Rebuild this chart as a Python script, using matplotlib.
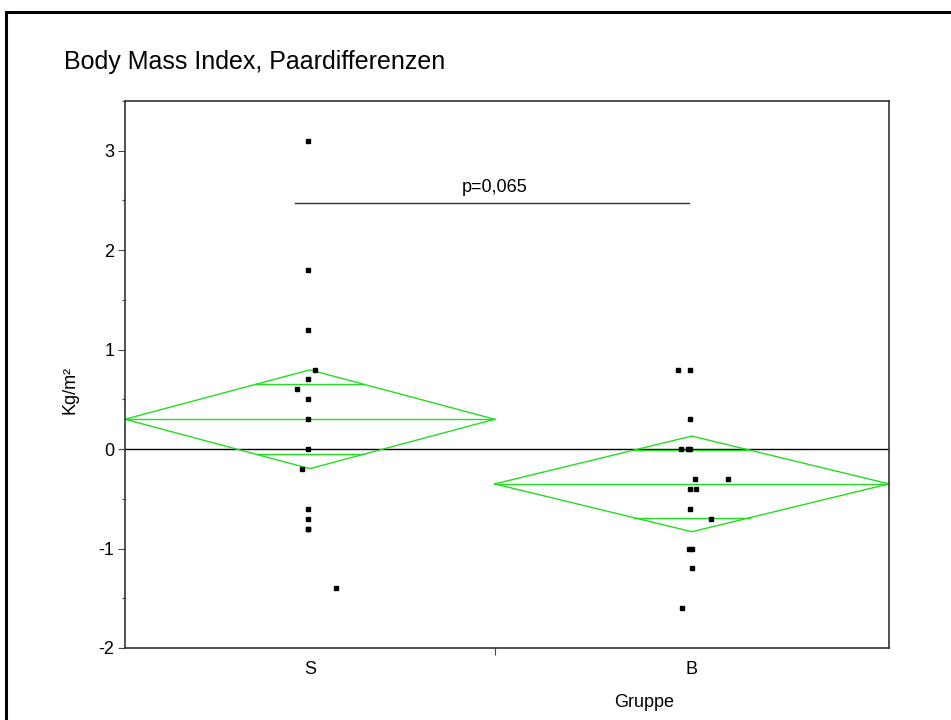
import numpy as np
import matplotlib
matplotlib.use("Agg")
import matplotlib.pyplot as plt
from matplotlib.patches import Rectangle
from matplotlib.ticker import FixedLocator, MultipleLocator

plt.rcParams['font.family'] = ['Liberation Sans', 'DejaVu Sans']
plt.rcParams['axes.unicode_minus'] = False

# BMI pair differences per group (kg/m²)
groups = ["S", "B"]
s_values = [3.1, 1.8, 1.2, 0.8, 0.7, 0.6, 0.5, 0.3, 0.0, -0.2, -0.6, -0.7, -0.8, -0.8, -1.4]
s_jitter = [0, 0, 0, 0.3, 0, -0.45, 0, 0, 0, -0.25, 0, 0, 0, 0, 1.15]
b_values = [0.8, 0.8, 0.3, 0.0, 0.0, 0.0, -0.3, -0.3, -0.4, -0.4, -0.6, -0.7, -1.0, -1.0, -1.2, -1.6]
b_jitter = [-0.47, 0, 0, -0.34, -0.07, 0, 0.19, 1.55, 0, 0.23, 0, 0.85, -0.04, 0.07, 0.09, -0.3]
p_label = "p=0,065"
t_crit = 2.045  # t(0.975, df=29)

data = [np.array(s_values), np.array(b_values)]
jitter = [np.array(s_jitter), np.array(b_jitter)]
green = '#22dd22'

# group widths proportional to group size, like a means-diamond plot
n = np.array([len(d) for d in data])
edges = np.concatenate([[0], np.cumsum(n)])
centers = (edges[:-1] + edges[1:]) / 2
means = np.array([d.mean() for d in data])
ss = sum(((d - d.mean()) ** 2).sum() for d in data)
sp = np.sqrt(ss / (n.sum() - len(n)))
half = t_crit * sp / np.sqrt(n)

fig = plt.figure(figsize=(9.51, 7.2), dpi=100)
ax = fig.add_axes([125 / 951, 1 - 648 / 720, 764 / 951, 547 / 720])

ax.axhline(0, color='black', lw=1, zorder=1)

for i in range(len(groups)):
    left, right, c, m, h = edges[i], edges[i + 1], centers[i], means[i], half[i]
    ax.plot([left, c, right, c, left], [m, m + h, m, m - h, m], color=green, lw=1.0, zorder=2)
    ax.plot([left, right], [m, m], color=green, lw=1.0, zorder=2)
    w = (1 - 1 / np.sqrt(2)) * (right - left) / 2
    for y in (m + h / np.sqrt(2), m - h / np.sqrt(2)):
        ax.plot([c - w, c + w], [y, y], color=green, lw=1.0, zorder=2)
    ax.plot(c - 0.08 + jitter[i], data[i], ls='none', marker='s', ms=3.2,
            color='black', zorder=3)

# significance bracket
bracket_y = 2.47
ax.plot([centers[0] - 0.6, centers[1] - 0.1], [bracket_y, bracket_y], color='#333333', lw=1)
ax.text(edges[1], 2.63, p_label, ha='center', va='center', fontsize=13)

ax.set_xlim(edges[0], edges[-1])
ax.set_ylim(-2, 3.5)

ax.yaxis.set_major_locator(MultipleLocator(1))
ax.yaxis.set_minor_locator(MultipleLocator(0.5))
ax.tick_params(axis='y', which='major', length=5, width=0.8, pad=2.5, labelsize=13, color='#444444')
ax.tick_params(axis='y', which='minor', length=2.5, width=0.8, color='#444444')

ax.xaxis.set_major_locator(FixedLocator([edges[1]]))
ax.xaxis.set_major_formatter(plt.NullFormatter())
ax.xaxis.set_minor_locator(FixedLocator(centers))
ax.set_xticklabels(groups, minor=True)
ax.tick_params(axis='x', which='major', length=5, width=0.8, color='#444444')
ax.tick_params(axis='x', which='minor', length=0, pad=9, labelsize=13)

for s in ax.spines.values():
    s.set_color('#333333')
    s.set_linewidth(1.2)

ax.set_ylabel("Kg/m²", fontsize=13, va='center', ha='center')
ax.yaxis.set_label_coords(-0.072, 0.472)
ax.set_xlabel("Gruppe", fontsize=13, va='center', ha='center')
ax.xaxis.set_label_coords(0.68, -0.1)

fig.text(64 / 951, 1 - 62 / 720, "Body Mass Index, Paardifferenzen",
         ha='left', va='center', fontsize=18)

# outer frame (left and top edges show)
fig.add_artist(Rectangle((6 / 951, -0.2), 1.5, 1 - 12 / 720 + 0.2,
                         transform=fig.transFigure, fill=False,
                         ec='black', lw=2.2, clip_on=False))

fig.savefig("out.png", dpi=100)
